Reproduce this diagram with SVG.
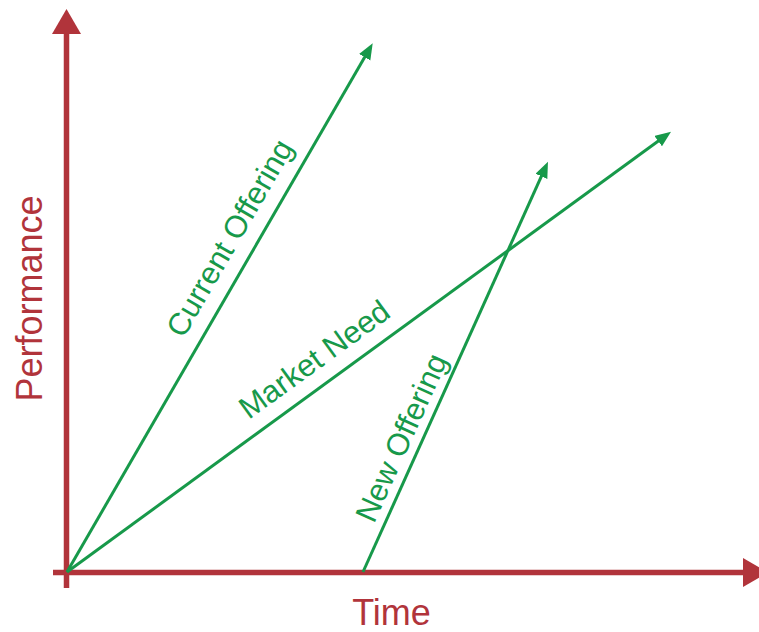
<svg xmlns="http://www.w3.org/2000/svg" width="759" height="632" viewBox="0 0 759 632">
<style>
.axis{stroke:#b1343b;stroke-width:5.5;fill:none}
.head{fill:#b1343b}
.g{stroke:#17994a;stroke-width:3;fill:none;marker-end:url(#ga)}
.gt{font-family:"Liberation Sans",Arial,sans-serif;font-size:31px;fill:#17994a;text-anchor:middle}
.rt{font-family:"Liberation Sans",Arial,sans-serif;font-size:36px;fill:#b1343b;text-anchor:middle}
</style>
<defs>
<marker id="ga" markerUnits="userSpaceOnUse" markerWidth="17" markerHeight="14" refX="10" refY="6.5" orient="auto" viewBox="0 0 17 14">
<path d="M0,0 L16,6.5 L0,13 Z" fill="#17994a"/>
</marker>
</defs>
<rect width="759" height="632" fill="#fff"/>
<g id="axes">
<g id="y-axis">
<line class="axis" x1="66.5" y1="588" x2="66.5" y2="33"/>
<polygon class="head" points="52,34 81,34 66.5,9"/>
</g>
<g id="x-axis">
<line class="axis" x1="53" y1="572.5" x2="744" y2="572.5"/>
<polygon class="head" points="743,558 743,587 768,572.5"/>
</g>
</g>
<g id="connectors">
<line class="g" x1="67" y1="572" x2="369.7" y2="48.5"/>
<line class="g" x1="67" y1="572" x2="666.2" y2="135.2"/>
<line class="g" x1="363" y1="572" x2="545.5" y2="167.2"/>
</g>
<g id="label-current">
<text class="gt" transform="translate(238.8,243.2) rotate(-60)">Current Offering</text>
</g>
<g id="label-market">
<text class="gt" transform="translate(320.5,367.9) rotate(-36)">Market Need</text>
</g>
<g id="label-new">
<text class="gt" transform="translate(411,442) rotate(-65.7)">New Offering</text>
</g>
<g id="label-performance">
<text class="rt" transform="translate(41.5,298.5) rotate(-90)">Performance</text>
</g>
<g id="label-time">
<text class="rt" x="391.5" y="625">Time</text>
</g>
</svg>
